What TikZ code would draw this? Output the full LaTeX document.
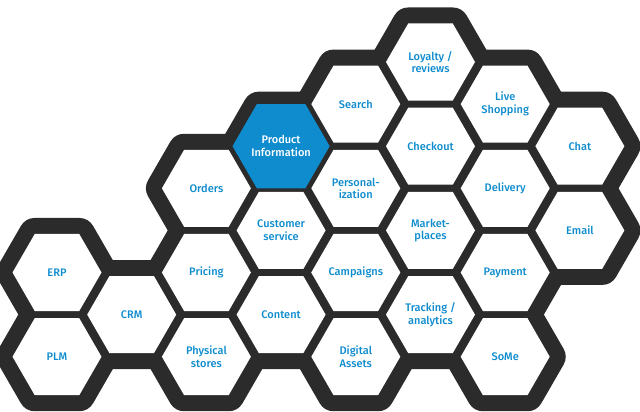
\documentclass[tikz,border=0pt]{standalone}
\usepackage{fontspec}
\setmainfont{Fira Sans}[UprightFont=* Medium]
\usetikzlibrary{shapes.geometric}
\definecolor{hexblue}{RGB}{14,140,206}
\definecolor{hexdark}{RGB}{43,43,43}
\begin{document}
\begin{tikzpicture}[x=1pt,y=-1pt,
  hexshape/.style={regular polygon,regular polygon sides=6,minimum size=89pt,inner sep=0pt},
  hexback/.style={hexshape,fill=hexdark,draw=hexdark,line width=32pt,line join=round},
  hexcell/.style={hexshape,fill=white,text=hexblue,align=center,
    font=\fontsize{11}{12.7}\selectfont}]
  \useasboundingbox (0,0) rectangle (640,412);
  \foreach \c/\r/\n/\t in {1/5/erp/ERP, 1/7/plm/PLM, 2/6/crm/CRM,
      3/3/orders/Orders, 3/5/pricing/Pricing, 3/7/stores/{Physical\\stores},
      4/2/pim/{Product\\Information}, 4/4/service/{Customer\\service}, 4/6/content/Content,
      5/1/search/Search, 5/3/personal/{Personal-\\ization}, 5/5/campaigns/Campaigns,
      5/7/assets/{Digital\\Assets},
      6/0/loyalty/{Loyalty /\\reviews}, 6/2/checkout/Checkout, 6/4/market/{Market-\\places},
      6/6/tracking/{Tracking /\\analytics},
      7/1/live/{Live\\Shopping}, 7/3/delivery/Delivery, 7/5/payment/Payment, 7/7/some/SoMe,
      8/2/chat/Chat, 8/4/email/Email}
    \node[hexback] (bg-\n) at ({57+(\c-1)*74.7},{62+\r*42.1}) {};
  \foreach \c/\r/\n/\t in {1/5/erp/ERP, 1/7/plm/PLM, 2/6/crm/CRM,
      3/3/orders/Orders, 3/5/pricing/Pricing, 3/7/stores/{Physical\\stores},
      4/4/service/{Customer\\service}, 4/6/content/Content,
      5/1/search/Search, 5/3/personal/{Personal-\\ization}, 5/5/campaigns/Campaigns,
      5/7/assets/{Digital\\Assets},
      6/0/loyalty/{Loyalty /\\reviews}, 6/2/checkout/Checkout, 6/4/market/{Market-\\places},
      6/6/tracking/{Tracking /\\analytics},
      7/1/live/{Live\\Shopping}, 7/3/delivery/Delivery, 7/5/payment/Payment, 7/7/some/SoMe,
      8/2/chat/Chat, 8/4/email/Email}
    \node[hexcell] (\n) at ({57+(\c-1)*74.7},{62+\r*42.1}) {\t};
  \node[hexcell,fill=hexblue,text=white] (pim) at ({57+3*74.7},{62+2*42.1})
    {Product\\Information};
\end{tikzpicture}
\end{document}
